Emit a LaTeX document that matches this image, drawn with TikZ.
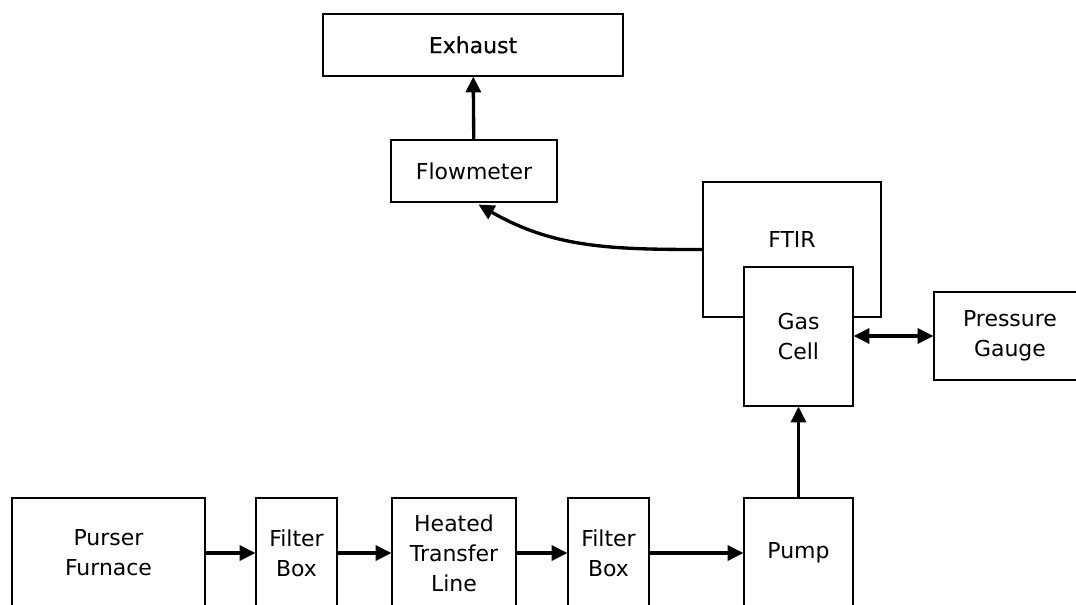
\documentclass[tikz,border=0pt]{standalone}
\usepackage{fontspec}
\setmainfont{DejaVu Sans}
\newfontfamily\heavyfont[FakeBold=0.5]{DejaVu Sans}
\usetikzlibrary{arrows.meta}
\tikzset{%
    every node/.style={align=center, font=\fontsize{12.5}{17}\selectfont},
    box/.style={draw, fill=white, line width=0.6pt, inner sep=0pt},
    tip/.tip={Triangle[length=9pt, width=8.5pt]},
    flow/.style={line width=1.9pt, -tip}
}

\begin{document}
\begin{tikzpicture}[x=0.02cm, y=-0.02cm]
  \useasboundingbox (0,0) rectangle (1076,605);
  \clip (0,0) rectangle (1076,605);

  \node (exhaust) [box, minimum width=300*0.02cm, minimum height=62*0.02cm]
    at (473, 45) {\heavyfont Exhaust};
  \node (flowm) [box, minimum width=166*0.02cm, minimum height=62*0.02cm]
    at (474, 171) {Flowmeter};
  \node (ftir) [box, minimum width=178*0.02cm, minimum height=135*0.02cm]
    at (792, 249.5) {};
  \node (ftirtxt) at (792, 239) {FTIR};
  \node (gascell) [box, minimum width=109*0.02cm, minimum height=139*0.02cm]
    at (798.5, 336.5) {Gas\\Cell};
  \node (gauge) [box, minimum width=152*0.02cm, minimum height=88*0.02cm]
    at (1010, 336) {Pressure\\Gauge};

  \node (furnace) [box, minimum width=193*0.02cm, minimum height=110*0.02cm]
    at (108.5, 553) {Purser\\Furnace};
  \node (filterA) [box, minimum width=81*0.02cm, minimum height=110*0.02cm]
    at (296.5, 553) {Filter\\Box};
  \node (heated) [box, minimum width=124*0.02cm, minimum height=110*0.02cm]
    at (454, 553) {Heated\\Transfer\\Line};
  \node (filterB) [box, minimum width=81*0.02cm, minimum height=110*0.02cm]
    at (608.5, 553) {Filter\\Box};
  \node (pump) [box, minimum width=109*0.02cm, minimum height=110*0.02cm]
    at (798.5, 553) {Pump};

  \draw [flow] (furnace) -- (filterA);
  \draw [flow] (filterA) -- (heated);
  \draw [flow] (heated) -- (filterB);
  \draw [flow] (filterB) -- (pump);
  \draw [flow] (pump) -- (gascell);
  \draw [flow] (flowm) -- (exhaust);
  \draw [flow, tip-tip] (gascell.east |- gauge.west) -- (gauge.west);

  % sample gas back from the cell to the flowmeter
  \draw [flow, shorten >=4*0.02cm] (ftir.west) to [out=180, in=-30]
    ([xshift=1*0.02cm]flowm.south);
\end{tikzpicture}
\end{document}
